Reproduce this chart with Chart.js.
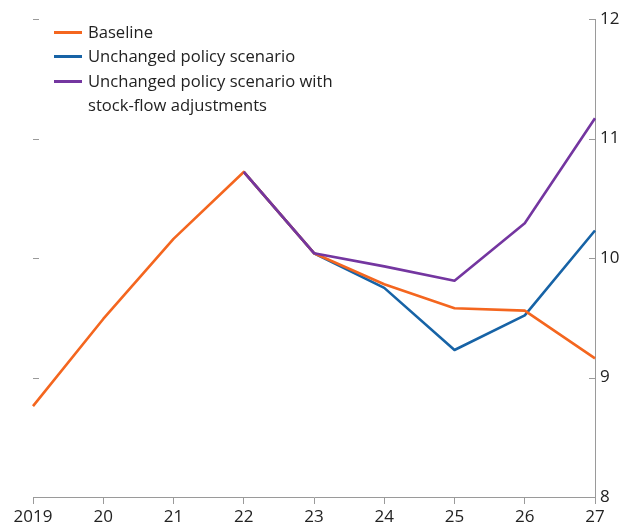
<!DOCTYPE html>
<html>
<head>
<meta charset="utf-8">
<script src="https://cdn.jsdelivr.net/npm/chart.js@4"></script>
<style>
  body { margin: 0; background: #fff; }
  .wrap { position: relative; width: 630px; height: 531px; }
  .legend { position: absolute; left: 54px; top: 20px; font-family: "Open Sans", sans-serif; font-size: 16.6px; color: #222; line-height: 24.4px; }
  .legend div { position: relative; padding-left: 34px; }
  .legend span { position: absolute; left: 0; top: 11px; width: 28px; height: 3px; }
</style>
</head>
<body>
<div class="wrap">
  <canvas id="myChart" width="630" height="531"></canvas>
  <div class="legend">
    <div><span style="background:#F4661F"></span>Baseline</div>
    <div><span style="background:#1763A6"></span>Unchanged policy scenario</div>
    <div><span style="background:#7436A0"></span>Unchanged policy scenario with<br>stock-flow adjustments</div>
  </div>
</div>
<script>
// Datos
const years = ['2019', '20', '21', '22', '23', '24', '25', '26', '27'];
const baseline = [8.76, 9.49, 10.16, 10.72, 10.04, 9.78, 9.58, 9.56, 9.16];
const unchanged = [null, null, null, 10.72, 10.04, 9.75, 9.23, 9.52, 10.23];
const unchangedSfa = [null, null, null, 10.72, 10.04, 9.93, 9.81, 10.29, 11.17];
const yTicks = [8, 9, 10, 11, 12];

// Marcas de eje hacia dentro (izquierda y derecha)
const innerTicks = {
    id: 'innerTicks',
    afterDraw(chart) {
        const c = chart.ctx;
        const y = chart.scales.y;
        const area = chart.chartArea;
        c.save();
        c.strokeStyle = '#9a9a9a';
        c.lineWidth = 1;
        yTicks.forEach(v => {
            if (v === 8) return;
            const py = Math.round(y.getPixelForValue(v)) + 0.5;
            c.beginPath();
            c.moveTo(area.left, py);
            c.lineTo(area.left + 6, py);
            c.moveTo(area.right, py);
            c.lineTo(area.right - 6, py);
            c.stroke();
        });
        c.restore();
    }
};

const ctx = document.getElementById('myChart').getContext('2d');
const myChart = new Chart(ctx, {
    type: 'line',
    data: {
        labels: years,
        datasets: [
            { label: 'Baseline', data: baseline, borderColor: '#F4661F', order: 1 },
            { label: 'Unchanged policy scenario', data: unchanged, borderColor: '#1763A6', order: 2 },
            { label: 'Unchanged policy scenario with stock-flow adjustments', data: unchangedSfa, borderColor: '#7436A0', order: 0 }
        ]
    },
    options: {
        responsive: false,
        animation: false,
        elements: {
            line: { borderWidth: 2.6, tension: 0, borderJoinStyle: 'round' },
            point: { radius: 0 }
        },
        layout: { padding: { left: 33, top: 19 } },
        plugins: { legend: { display: false }, tooltip: { enabled: false } },
        scales: {
            x: {
                offset: false,
                grid: { drawOnChartArea: false, drawTicks: true, tickLength: 7, color: '#9a9a9a' },
                border: { display: true, color: '#9a9a9a' },
                ticks: { color: '#222', font: { family: 'Open Sans', size: 17 }, padding: 3, maxRotation: 0, autoSkip: false },
                afterFit: s => { s.height = 34; }
            },
            y: {
                position: 'right',
                min: 8,
                max: 12,
                grid: { drawOnChartArea: false, drawTicks: false },
                border: { display: true, color: '#9a9a9a' },
                ticks: { stepSize: 1, color: '#222', font: { family: 'Open Sans', size: 17 }, padding: 5 },
                afterFit: s => { s.width = 35; }
            }
        }
    },
    plugins: [innerTicks]
});
</script>
</body>
</html>
